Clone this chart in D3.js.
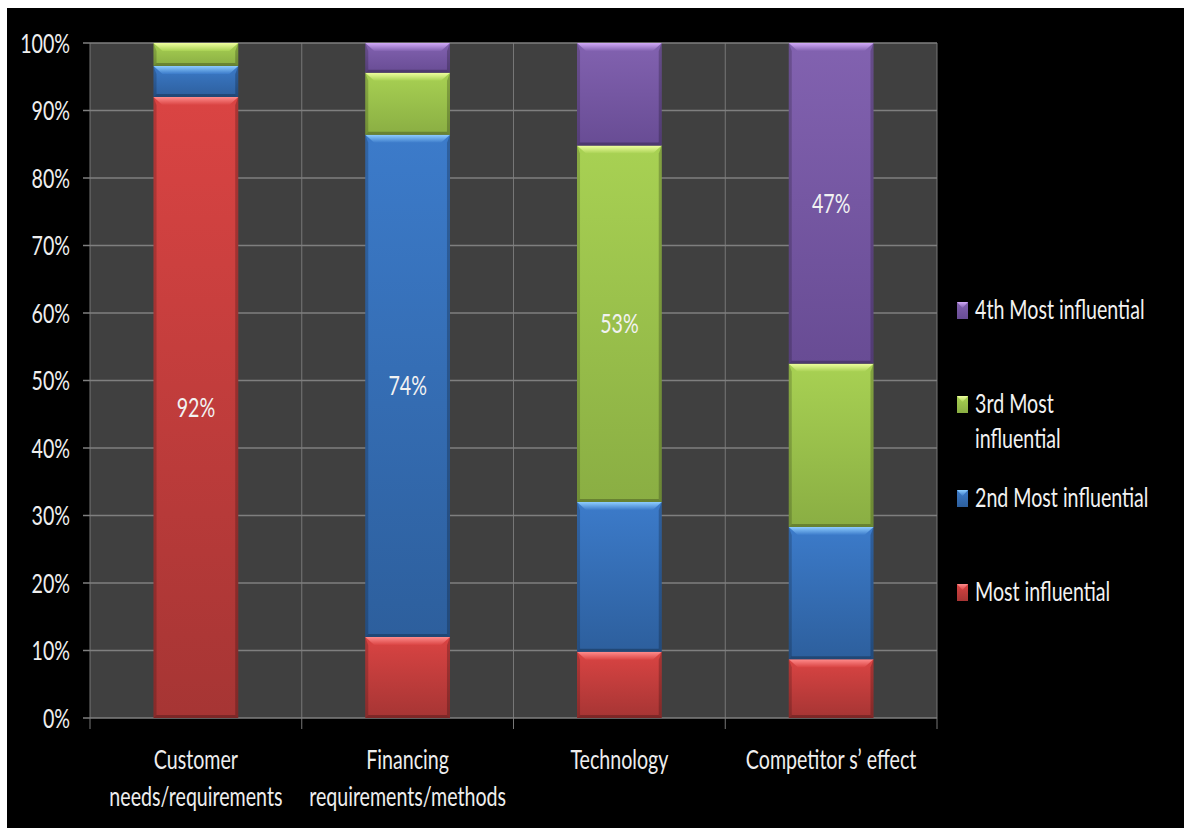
<!DOCTYPE html>
<html><head><meta charset="utf-8">
<script src="https://cdn.jsdelivr.net/npm/d3@7"></script>
<style>body{margin:0;background:#fff;} svg{display:block;}</style>
</head><body><svg id="c" width="1184" height="828"></svg>
<script>
// ---- data ----
const categories = ["Customer needs/requirements", "Financing requirements/methods", "Technology", "Competitor s’ effect"];
const categoryLines = [["Customer", "needs/requirements"], ["Financing", "requirements/methods"], ["Technology"], ["Competitor s’ effect"]];
const seriesNames = ["Most influential", "2nd Most influential", "3rd Most influential", "4th Most influential"];
const legendLines = [["Most influential"], ["2nd Most influential"], ["3rd Most", "influential"], ["4th Most influential"]];
const mostInfluential = [92, 12, 9.8, 8.7];
const secondMost = [4.6, 74.4, 22.2, 19.6];
const thirdMost = [3.4, 9.2, 52.8, 24.2];
const fourthMost = [0, 4.4, 15.2, 47.5];
const yTicks = [0, 10, 20, 30, 40, 50, 60, 70, 80, 90, 100];
const labelledSeries = [0, 1, 2, 3]; // which series gets a value label, per category
const valueLabels = ["92%", "74%", "53%", "47%"];

// ---- style ----
const palette = [
  {base: "#da4443", dark: "#a63534", hl: "#ff8c8c"},
  {base: "#3c7bca", dark: "#2d5f9d", hl: "#8ecdff"},
  {base: "#a8d153", dark: "#8aae43", hl: "#f0ffa0"},
  {base: "#8262b0", dark: "#684c94", hl: "#d2aaf8"}
];
const FONT = "Lato, 'Open Sans', sans-serif";
const FS = 26, SX = 0.755;
const W = 1184, H = 828;
const M = {left: 90, top: 43, right: 937, bottom: 718};

const svg = d3.select("#c");
svg.append("rect").attr("x", 7).attr("y", 8).attr("width", W - 7).attr("height", H - 8).attr("fill", "#000");

const defs = svg.append("defs");
palette.forEach((p, i) => {
  const g = defs.append("linearGradient").attr("id", "g" + i).attr("x1", 0).attr("y1", 0).attr("x2", 0).attr("y2", 1);
  g.append("stop").attr("offset", 0).attr("stop-color", p.base);
  g.append("stop").attr("offset", 1).attr("stop-color", p.dark);
  const h = defs.append("linearGradient").attr("id", "h" + i).attr("x1", 0).attr("y1", 0).attr("x2", 0).attr("y2", 1);
  h.append("stop").attr("offset", 0).attr("stop-color", p.hl);
  h.append("stop").attr("offset", 1).attr("stop-color", p.base);
});

const x = d3.scaleBand().domain(categories).range([M.left, M.right]).paddingInner(0.6).paddingOuter(0.3);
const y = d3.scaleLinear().domain([0, 100]).range([M.bottom, M.top]);

// plot background
svg.append("rect").attr("x", M.left).attr("y", M.top).attr("width", M.right - M.left).attr("height", M.bottom - M.top).attr("fill", "#404040");

// vertical separators
const bounds = categories.map(c => x(c) - (x.step() - x.bandwidth()) / 2).concat([M.right]);
svg.append("g").selectAll("line").data(bounds).join("line")
  .attr("x1", d => d).attr("x2", d => d).attr("y1", M.top).attr("y2", M.bottom + 11)
  .attr("stroke", "#777").attr("stroke-width", 1);

// horizontal gridlines
svg.append("g").selectAll("line").data(yTicks).join("line")
  .attr("x1", M.left - 7).attr("x2", M.right).attr("y1", d => y(d)).attr("y2", d => y(d))
  .attr("stroke", "#7f7f7f").attr("stroke-width", 1.6);

// y axis labels
const yAxis = svg.append("g").attr("transform", `translate(${M.left},0)`)
  .call(d3.axisLeft(y).tickValues(yTicks).tickFormat(d => d + "%").tickSize(0));
yAxis.select(".domain").remove();
yAxis.selectAll("text").attr("x", -20 / SX).attr("dy", "0.36em").attr("transform", `scale(${SX},1)`)
  .attr("fill", "#eeeeee").style("font-family", FONT).style("font-size", FS + "px");

// x axis labels
const xAxis = svg.append("g").attr("transform", `translate(0,${M.bottom})`)
  .call(d3.axisBottom(x).tickSize(0).tickFormat(""));
xAxis.select(".domain").remove();
xAxis.selectAll(".tick text").each(function(d, i) {
  const t = d3.select(this).attr("y", 0).attr("dy", null).attr("transform", `scale(${SX},1)`)
    .attr("fill", "#eeeeee").style("font-family", FONT).style("font-size", FS + "px").attr("text-anchor", "middle");
  categoryLines[i].forEach((ln, k) => t.append("tspan").attr("x", 0).attr("y", 51 + k * 37).text(ln));
});

// stacked bars
const rows = categories.map((c, i) => ({cat: c, s0: mostInfluential[i], s1: secondMost[i], s2: thirdMost[i], s3: fourthMost[i]}));
const stack = d3.stack().keys(["s0", "s1", "s2", "s3"])(rows);
const bw = x.bandwidth();
stack.forEach((layer, si) => {
  const gl = svg.append("g");
  layer.forEach((seg, ci) => {
    const v = seg[1] - seg[0];
    if (v <= 0) return;
    const x0 = x(categories[ci]), x1 = x0 + bw;
    const y0 = y(seg[1]), y1 = y(seg[0]);
    const h = y1 - y0;
    const b = Math.min(8, h / 2);
    const g = gl.append("g");
    g.append("rect").attr("x", x0).attr("y", y0).attr("width", bw).attr("height", h).attr("fill", `url(#g${si})`);
    // side shading
    g.append("polygon").attr("points", [[x0, y0], [x0 + 3, y0 + b], [x0 + 3, y1 - 3], [x0, y1]].join(" ")).attr("fill", "#000").attr("opacity", 0.18);
    g.append("polygon").attr("points", [[x1, y0], [x1 - 3, y0 + b], [x1 - 3, y1 - 3], [x1, y1]].join(" ")).attr("fill", "#000").attr("opacity", 0.22);
    g.append("polygon").attr("points", [[x0, y1], [x0 + 3, y1 - 3], [x1 - 3, y1 - 3], [x1, y1]].join(" ")).attr("fill", "#000").attr("opacity", 0.25);
    // top bevel
    g.append("polygon").attr("points", [[x0, y0], [x1, y0], [x1 - 9, y0 + b], [x0 + 9, y0 + b]].join(" ")).attr("fill", `url(#h${si})`);
  });
});

// value labels
categories.forEach((c, ci) => {
  const si = labelledSeries[ci];
  const seg = stack[si][ci];
  svg.append("text").attr("transform", `translate(${x(c) + bw / 2},${y((seg[0] + seg[1]) / 2)}) scale(${SX},1)`)
    .attr("text-anchor", "middle").attr("dy", "0.36em").attr("fill", "#f2f2f2")
    .style("font-family", FONT).style("font-size", FS + "px").text(valueLabels[ci]);
});

// legend (reversed order)
const order = [3, 2, 1, 0];
order.forEach((si, k) => {
  const top = 302 + k * 94;
  const g = svg.append("g");
  g.append("rect").attr("x", 957).attr("y", top).attr("width", 11).attr("height", 17).attr("fill", `url(#g${si})`);
  g.append("polygon").attr("points", [[957, top], [968, top], [962.5, top + 6]].join(" ")).attr("fill", `url(#h${si})`);
  const t = g.append("text").attr("transform", `translate(975,${top + 17}) scale(${SX},1)`)
    .attr("fill", "#f2f2f2").style("font-family", FONT).style("font-size", FS + "px");
  legendLines[si].forEach((ln, j) => t.append("tspan").attr("x", 0).attr("y", j * 35).text(ln));
});
</script></body></html>
